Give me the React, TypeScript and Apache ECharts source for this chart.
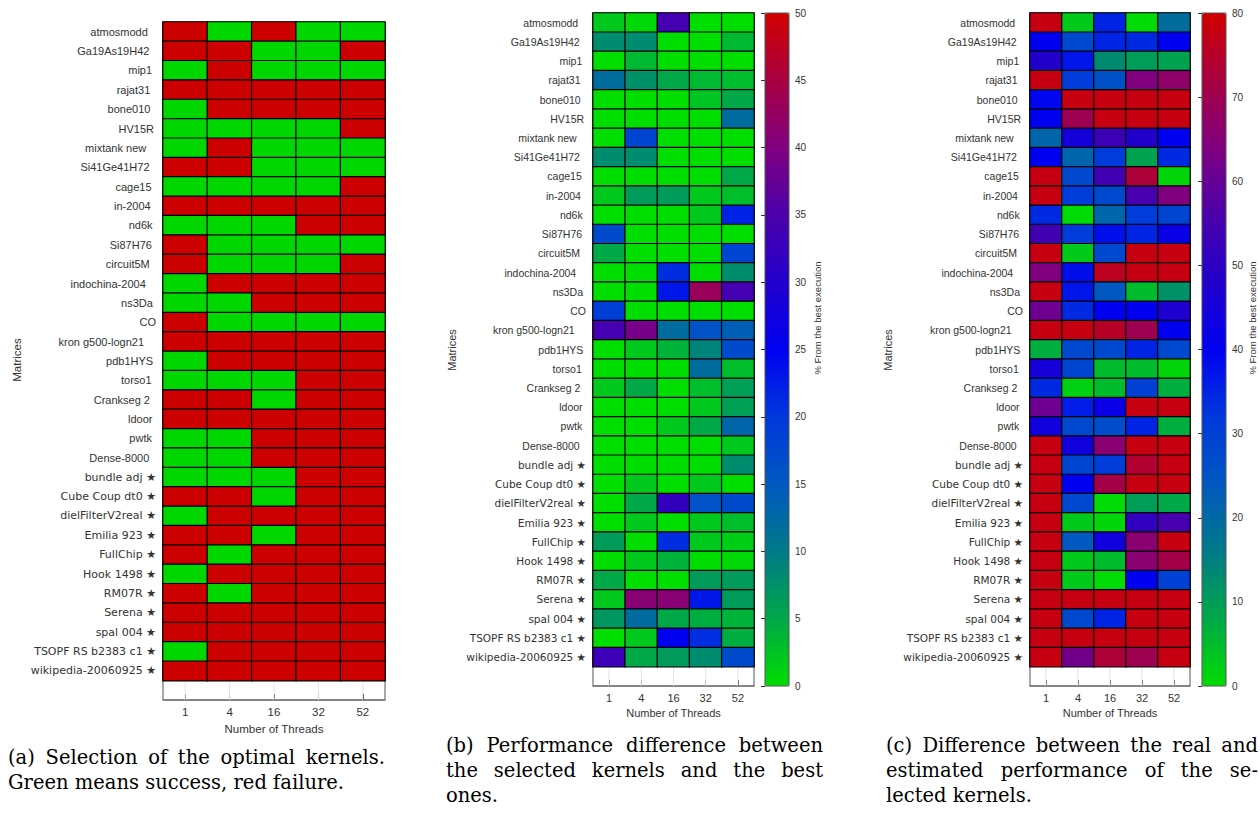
import React, { useEffect, useRef } from 'react';
import * as echarts from 'echarts';

const matrices = ['atmosmodd', 'Ga19As19H42', 'mip1', 'rajat31', 'bone010', 'HV15R', 'mixtank new', 'Si41Ge41H72', 'cage15', 'in-2004', 'nd6k', 'Si87H76', 'circuit5M', 'indochina-2004', 'ns3Da', 'CO', 'kron g500-logn21', 'pdb1HYS', 'torso1', 'Crankseg 2', 'ldoor', 'pwtk', 'Dense-8000', 'bundle adj ★', 'Cube Coup dt0 ★', 'dielFilterV2real ★', 'Emilia 923 ★', 'FullChip ★', 'Hook 1498 ★', 'RM07R ★', 'Serena ★', 'spal 004 ★', 'TSOPF RS b2383 c1 ★', 'wikipedia-20060925 ★'];
const threads = ['1', '4', '16', '32', '52'];

// (a) 1 = success (green), 0 = failure (red)
const selT1 = [0,0,1,0,1,1,1,0,1,0,1,0,0,1,1,0,0,1,1,0,0,1,1,1,0,1,0,0,1,0,0,0,1,0];
const selT4 = [1,0,0,0,0,1,0,0,1,0,1,1,1,0,1,1,0,0,1,0,0,1,1,1,0,0,0,1,0,1,0,0,0,0];
const selT16 = [0,1,1,0,0,1,1,1,1,0,1,1,1,0,0,1,0,0,1,1,0,0,0,1,1,0,1,0,0,0,0,0,0,0];
const selT32 = [1,1,1,0,0,1,1,1,1,0,0,1,1,0,0,1,0,0,0,0,0,0,0,0,0,0,0,0,0,0,0,0,0,0];
const selT52 = [1,0,1,0,0,0,1,1,0,0,0,1,0,0,0,1,0,0,0,0,0,0,0,0,0,0,0,0,0,0,0,0,0,0];

// (b) % from the best execution
const diffT1 = [2,8,0,12,0,0,0,8,0,2,0,17,5,0,0,19,34,0,0,2,0,0,0,0,0,0,0,6.5,0,5,2,7,0,33];
const diffT4 = [0.5,8,3.5,7.5,0,0,18,8,0,6.5,0,0,0,0,0,0,39,2,0,5,0,0,0,0,2,5,2,0,2,0,41,12,2,5];
const diffT16 = [34,0,0,5,0,0,0,0,0,6.5,0,0,0,21,23,0,12,4,0,0,0,2,0,0,0,32,0,21,4,0,41,5,25,6.5];
const diffT32 = [0,0,0,3.5,2.5,0,0,0,0,2,2,0,0,0,43,0,16,9,12,3,2,5,0,0,2,16,2,2,0,6.5,23,4.5,21,8];
const diffT52 = [0,3.5,0,3,5,12,0,0,5,3,22,0,18,8,34,0,14,17,3,6,6,13,2,8,0,17,3,1.5,0.5,6.5,6.5,4,4.5,17];

// (c) real vs estimated performance difference
const estT1 = [78,40,48,78,39,40,21,40,78,78,34,54,78,64,78,61,78,7,45,34,61,44,78,78,78,78,78,78,78,78,78,78,78,78];
const estT4 = [3,28,37,31,78,70,45,21,28,31,0.5,31,3,38,37,34,78,28,29,2,36,28,44,29,40,28,3,24,3,3,78,28,78,62];
const estT16 = [35,35,13,26,78,78,53,31,54,28,21,38,28,76,24,40,75,28,5,5,42,27,66,31,71,0.5,1,44,5,0.5,78,35,78,73];
const estT32 = [0.5,34,10,64,78,78,48,9,73,55,31,35,78,78,5,40,70,35,5,30,78,35,78,74,78,10,51,66,66,40,78,78,78,70];
const estT52 = [19,40,9,67,78,78,40,34,1,64,29,42,78,78,12,47,40,28,1,7,78,7,78,78,78,8,55,78,71,30,78,78,78,78];

const diffMax = 50;
const estMax = 80;
const diffTicks = 5;
const estTicks = 10;

const cmap = ['#00dd00', '#00a848', '#007a88', '#0058c0', '#0038dc', '#0000f0', '#2200cc', '#4c00aa', '#800080', '#a80040', '#d00000'];
const green = '#00d700';
const red = '#cc0000';
const txt = '#333333';

function cells(cols: number[][]) {
  const out: number[][] = [];
  cols.forEach((col, ci) => col.forEach((v, ri) => out.push([ci, ri, v])));
  return out;
}

export default function App() {
  const ref = useRef<HTMLDivElement>(null);
  useEffect(() => {
    if (!ref.current) return;
    const chart = echarts.init(ref.current, null, { renderer: 'svg' });
    const ctx = document.createElement('canvas').getContext('2d')!;
    const measure = (t: string, font: string) => { ctx.font = font; return ctx.measureText(t).width; };

    const richFor = (fs: number) => {
      const rich: any = {};
      matrices.forEach((m, i) => {
        if (m.indexOf('★') >= 0) {
          rich['r' + i] = { fontFamily: 'DejaVu Sans', fontSize: fs, color: txt };
        } else {
          const pad = Math.max(0, measure(m, `${fs}px "DejaVu Sans"`) - measure(m, `${fs}px "Liberation Sans"`));
          rich['r' + i] = { fontFamily: 'Liberation Sans', fontSize: fs, color: txt, padding: [0, pad, 0, 0] };
        }
      });
      return rich;
    };

    const grids = [
      { left: 163, top: 22, width: 222, height: 678 },
      { left: 593, top: 13, width: 161, height: 673 },
      { left: 1030, top: 13, width: 160, height: 673 },
    ];
    const labelFs = [11, 10.5, 10.5];
    const xFs = [11.5, 11, 11];

    const xAxes: any[] = grids.map((g, i) => ({
      type: 'category', gridIndex: i, data: threads, position: 'bottom',
      name: 'Number of Threads', nameLocation: 'middle', nameGap: 21,
      nameTextStyle: { fontSize: xFs[i], color: txt, fontFamily: 'Liberation Sans' },
      axisLine: { show: true, lineStyle: { color: '#7a7a7a', width: 1.5 } },
      axisTick: { show: true, inside: true, length: 6, alignWithLabel: true, lineStyle: { color: '#333' } },
      axisLabel: { fontSize: xFs[i], color: txt, margin: 6, fontFamily: 'Liberation Sans' },
      splitLine: { show: false },
    }));
    const yAxes: any[] = grids.map((g, i) => ({
      type: 'category', gridIndex: i, data: [...matrices, ''], inverse: true,
      axisLine: { show: false }, axisTick: { show: false }, splitLine: { show: false },
      axisLabel: {
        margin: 7, interval: 0,
        formatter: (v: string, idx: number) => (idx < matrices.length ? `{r${idx}|${v}}` : ''),
        rich: richFor(labelFs[i]),
      },
    }));

    // colorbar axes
    const cbGrids = [
      { left: 765, top: 13, width: 24, height: 673, max: diffMax, step: diffTicks },
      { left: 1202, top: 13, width: 24, height: 673, max: estMax, step: estTicks },
    ];
    cbGrids.forEach((c, k) => {
      const gi = 3 + k;
      xAxes.push({ type: 'value', gridIndex: gi, show: false, min: 0, max: 1 });
      yAxes.push({
        type: 'value', gridIndex: gi, min: 0, max: c.max, interval: c.step, position: 'right', z: 10,
        axisLine: { show: false }, splitLine: { show: false },
        axisTick: { show: true, inside: true, length: 4, lineStyle: { color: '#333' } },
        axisLabel: { fontSize: 10, color: txt, margin: 6, fontFamily: 'Liberation Sans' },
      });
    });

    const heat = (gi: number, cols: number[][]) => ({
      type: 'heatmap', xAxisIndex: gi, yAxisIndex: gi, data: cells(cols),
      itemStyle: { borderColor: '#000', borderWidth: 1.2 },
      emphasis: { disabled: true }, silent: true,
    });
    const strip = (gi: number) => ({
      type: 'custom', xAxisIndex: gi, yAxisIndex: gi, silent: true, z: 1,
      data: threads.map((t, i) => [i, matrices.length]),
      renderItem: (params: any, api: any) => {
        const c = api.coord([api.value(0), api.value(1)]);
        const s = api.size([1, 1]);
        return { type: 'line', shape: { x1: c[0], y1: c[1] - s[1] / 2 + 1, x2: c[0], y2: c[1] + s[1] / 2 }, style: { stroke: '#e3e3e3', lineWidth: 1 } };
      },
    });

    // captions (justified like the LaTeX source)
    const capFont = '19.5px "DejaVu Serif"';
    const graphics: any[] = [];
    const addLine = (text: string, x0: number, x1: number, y: number, justify: boolean) => {
      const words = text.split(' ');
      if (!justify || words.length < 2) {
        graphics.push({ type: 'text', x: x0, y, style: { text, font: capFont, fill: '#000', align: 'left', verticalAlign: 'middle' } });
        return;
      }
      const ws = words.map((w) => measure(w, capFont));
      const total = ws.reduce((a, b) => a + b, 0);
      const gap = Math.max(3, (x1 - x0 - total) / (words.length - 1));
      let x = x0;
      words.forEach((w, i) => {
        graphics.push({ type: 'text', x, y, style: { text: w, font: capFont, fill: '#000', align: 'left', verticalAlign: 'middle' } });
        x += ws[i] + gap;
      });
    };
    addLine('(a) Selection of the optimal kernels.', 8, 385, 757, true);
    addLine('Green means success, red failure.', 8, 385, 782, false);
    addLine('(b) Performance difference between', 446, 823, 745, true);
    addLine('the selected kernels and the best', 446, 823, 770, true);
    addLine('ones.', 446, 823, 795, false);
    addLine('(c) Difference between the real and', 886, 1258, 745, true);
    addLine('estimated performance of the se-', 886, 1258, 770, true);
    addLine('lected kernels.', 886, 1258, 795, false);

    const rotText = (text: string, x: number, y: number, fs: number) => ({
      type: 'text', x, y, rotation: Math.PI / 2,
      style: { text, font: `${fs}px "Liberation Sans"`, fill: txt, align: 'center', verticalAlign: 'middle' },
    });
    graphics.push(rotText('Matrices', 17, 360, 11.5));
    graphics.push(rotText('Matrices', 452, 350, 11));
    graphics.push(rotText('Matrices', 888, 350, 11));
    graphics.push(rotText('% From the best execution', 817, 318, 9.5));
    graphics.push(rotText('% From the best execution', 1252, 318, 9.5));

    chart.setOption({
      animation: false,
      textStyle: { fontFamily: 'Liberation Sans' },
      grid: [
        ...grids.map((g) => ({ ...g, show: true, borderColor: '#555', borderWidth: 1, backgroundColor: 'transparent' })),
        ...cbGrids.map((c) => ({ left: c.left, top: c.top, width: c.width, height: c.height, show: true, borderColor: '#555', borderWidth: 1, backgroundColor: 'transparent', z: 10 })),
      ],
      xAxis: xAxes,
      yAxis: yAxes,
      visualMap: [
        { type: 'piecewise', show: false, seriesIndex: 0, pieces: [{ value: 0, color: red }, { value: 1, color: green }] },
        { type: 'continuous', seriesIndex: 1, min: 0, max: diffMax, inRange: { color: cmap }, left: 765, top: 13, itemWidth: 24, itemHeight: 673, calculable: false, padding: 0, hoverLink: false },
        { type: 'continuous', seriesIndex: 2, min: 0, max: estMax, inRange: { color: cmap }, left: 1202, top: 13, itemWidth: 24, itemHeight: 673, calculable: false, padding: 0, hoverLink: false },
      ],
      series: [
        heat(0, [selT1, selT4, selT16, selT32, selT52]),
        heat(1, [diffT1, diffT4, diffT16, diffT32, diffT52]),
        heat(2, [estT1, estT4, estT16, estT32, estT52]),
        strip(0), strip(1), strip(2),
      ],
      graphic: graphics,
    });
    return () => chart.dispose();
  }, []);
  return <div ref={ref} style={{ position: 'fixed', left: 0, top: 0, width: 1260, height: 814, background: '#fff' }} />;
}
